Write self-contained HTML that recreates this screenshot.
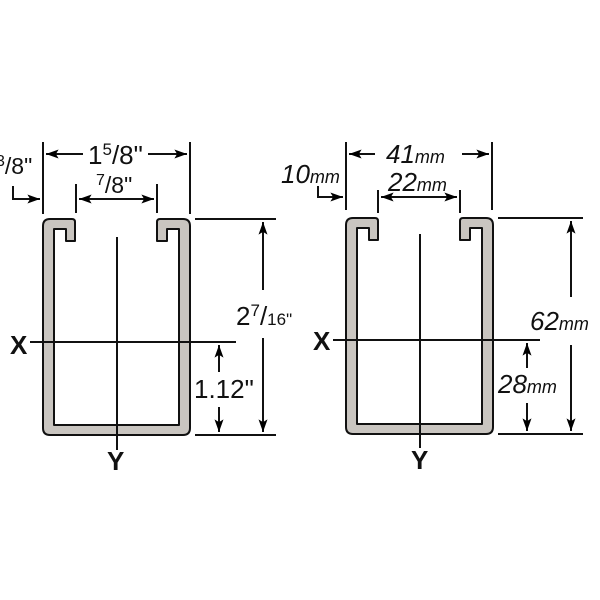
<!DOCTYPE html>
<html><head><style>body{margin:0;background:#fff}svg{display:block}
text{font-family:"Liberation Sans",sans-serif;fill:#111}</style></head><body>
<svg width="600" height="600" viewBox="0 0 600 600">
<defs>
<marker id="a" viewBox="0 0 14 10" refX="14" refY="5" markerWidth="14" markerHeight="9" orient="auto-start-reverse" markerUnits="userSpaceOnUse"><path d="M0,0 L14,5 L0,10 L3,5 Z" fill="#000"/></marker>
<g id="ch"><path d="M75,241 L75,222 Q75,219 72,219 L50,219 Q43,219 43,226 L43,428 Q43,435 50,435 L183,435 Q190,435 190,428 L190,226 Q190,219 183,219 L160,219 Q157,219 157,222 L157,241 L167,241 L167,229 L179,229 L179,425 L54,425 L54,229 L66,229 L66,241 Z" fill="#c9c5c0" stroke="#111" stroke-width="2" stroke-linejoin="round"/></g>
</defs>
<g stroke="#111" stroke-width="2" fill="none">
<use href="#ch"/>
<use href="#ch" x="303" y="-1"/>
<line x1="117" y1="237" x2="117" y2="450"/><line x1="30" y1="342" x2="236" y2="342"/>
<line x1="43" y1="142" x2="43" y2="214"/><line x1="190" y1="142" x2="190" y2="214"/>
<line x1="83" y1="154" x2="46" y2="154" marker-end="url(#a)"/><line x1="148" y1="154" x2="187" y2="154" marker-end="url(#a)"/>
<line x1="76" y1="184" x2="76" y2="213"/><line x1="157" y1="184" x2="157" y2="213"/>
<line x1="79" y1="199" x2="154" y2="199" marker-start="url(#a)" marker-end="url(#a)"/>
<polyline points="13,186 13,199 40,199" marker-end="url(#a)"/>
<line x1="195" y1="219" x2="276" y2="219"/><line x1="195" y1="435" x2="276" y2="435"/>
<line x1="263" y1="290" x2="263" y2="222" marker-end="url(#a)"/><line x1="263" y1="338" x2="263" y2="432" marker-end="url(#a)"/>
<line x1="219" y1="372" x2="219" y2="345" marker-end="url(#a)"/><line x1="219" y1="407" x2="219" y2="432" marker-end="url(#a)"/>
<line x1="420" y1="234" x2="420" y2="448"/><line x1="333" y1="340" x2="540" y2="340"/>
<line x1="346" y1="142" x2="346" y2="210"/><line x1="492" y1="142" x2="492" y2="210"/>
<line x1="375" y1="154" x2="349" y2="154" marker-end="url(#a)"/><line x1="462" y1="154" x2="489" y2="154" marker-end="url(#a)"/>
<line x1="378" y1="190" x2="378" y2="213"/><line x1="460" y1="190" x2="460" y2="213"/>
<line x1="381" y1="197" x2="457" y2="197" marker-start="url(#a)" marker-end="url(#a)"/>
<polyline points="318,186 318,197 343,197" marker-end="url(#a)"/>
<line x1="498" y1="218" x2="583" y2="218"/><line x1="498" y1="434" x2="583" y2="434"/>
<line x1="571" y1="297" x2="571" y2="221" marker-end="url(#a)"/><line x1="571" y1="345" x2="571" y2="431" marker-end="url(#a)"/>
<line x1="527" y1="368" x2="527" y2="343" marker-end="url(#a)"/><line x1="527" y1="403" x2="527" y2="431" marker-end="url(#a)"/>
</g>
<g font-size="26">
<text x="88" y="164">1<tspan font-size="17" dy="-9">5</tspan><tspan dy="9">/8"</tspan></text>
<text x="96" y="193" font-size="23"><tspan font-size="16" dy="-8">7</tspan><tspan dy="8">/8"</tspan></text>
<text x="-4" y="174" font-size="23"><tspan font-size="16" dy="-8">3</tspan><tspan dy="8">/8"</tspan></text>
<text x="236" y="325">2<tspan font-size="17" dy="-9">7</tspan><tspan dy="9">/</tspan><tspan font-size="17">16"</tspan></text>
<text x="194" y="398">1.12"</text>
<text x="10" y="354" font-weight="bold" font-size="26">X</text>
<text x="107" y="470" font-weight="bold" font-size="26">Y</text>
<text x="386" y="163" font-style="italic">41<tspan font-size="18">mm</tspan></text>
<text x="388" y="191" font-style="italic">22<tspan font-size="18">mm</tspan></text>
<text x="281" y="183" font-style="italic">10<tspan font-size="18">mm</tspan></text>
<text x="530" y="330" font-style="italic">62<tspan font-size="18">mm</tspan></text>
<text x="498" y="393" font-style="italic">28<tspan font-size="18">mm</tspan></text>
<text x="313" y="350" font-weight="bold" font-size="26">X</text>
<text x="411" y="469" font-weight="bold" font-size="26">Y</text>
</g>
</svg>
</body></html>
